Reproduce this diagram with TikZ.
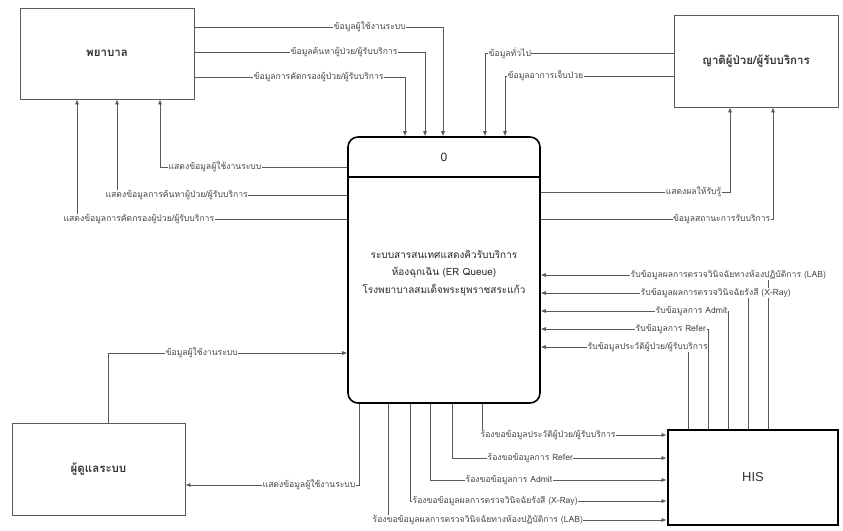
\documentclass[tikz,border=0pt]{standalone}
\usepackage{fontspec}
\setmainfont{Liberation Sans}
\newfontfamily\thai[Script=Thai]{Loma}
\usetikzlibrary{arrows.meta}
\begin{document}
\begin{tikzpicture}[x=1pt,y=-1pt,
  entity/.style={draw=black!65, line width=0.8pt, inner sep=0pt, font=\thai\fontsize{11.5}{12}\selectfont\bfseries, text=black!80},
  flow/.style={draw=black!65, line width=0.6pt, -{Latex[length=5pt,width=4pt]}},
  lbl/.style={fill=white, inner sep=0.5pt, font=\thai\fontsize{8.6}{9}\selectfont, text=black!72},
  ptext/.style={align=center, font=\thai\fontsize{10}{17.5}\selectfont, text=black!85}]
\useasboundingbox (0,0) rectangle (843,530);

% entities
\node[entity, minimum width=174pt, minimum height=91pt] (nurse) at (107,53.5) {พยาบาล};
\node[entity, minimum width=164pt, minimum height=92pt] (rel) at (756,61) {ญาติผู้ป่วย/ผู้รับบริการ};
\node[entity, minimum width=173pt, minimum height=92pt] (admin) at (98.5,469) {ผู้ดูแลระบบ};
\node[entity, draw=black, line width=2.8pt, minimum width=170pt, minimum height=95pt, font=\fontsize{13}{14}\selectfont] (his) at (753,477.5) {HIS};

% process
\node[draw=black, line width=1.6pt, rounded corners=10pt, minimum width=192pt, minimum height=266pt] (proc) at (444,270) {};
\draw[black, line width=1.4pt] (proc.west |- 0,177) coordinate (dl) -- (proc.east |- 0,177) coordinate (dr);
\node[font=\fontsize{12}{13}\selectfont, text=black!85] (pnum) at (444,157) {0};
\node[ptext] (ptxt) at (444,273) {ระบบสารสนเทศแสดงคิวรับบริการ\\ห้องฉุกเฉิน (ER Queue)\\โรงพยาบาลสมเด็จพระยุพราชสระแก้ว};

% nurse -> process
\draw[flow] (nurse.east |- 0,27) -| (443,0 |- proc.north);
\draw[flow] (nurse.east |- 0,52) -| (425,0 |- proc.north);
\draw[flow] (nurse.east |- 0,77) -| (405,0 |- proc.north);
% relatives -> process
\draw[flow] (rel.west |- 0,53) -| (485,0 |- proc.north);
\draw[flow] (rel.west |- 0,76) -| (505,0 |- proc.north);
% process -> nurse
\draw[flow] (proc.west |- 0,167) -| (160,0 |- nurse.south);
\draw[flow] (proc.west |- 0,195) -| (117,0 |- nurse.south);
\draw[flow] (proc.west |- 0,219) -| (77,0 |- nurse.south);
% process -> relatives
\draw[flow] (proc.east |- 0,192) -| (730,0 |- rel.south);
\draw[flow] (proc.east |- 0,219) -| (773,0 |- rel.south);
% HIS -> process
\draw[flow] (his.north -| 768,0) |- (proc.east |- 0,275);
\draw[flow] (his.north -| 748,0) |- (proc.east |- 0,293);
\draw[flow] (his.north -| 728,0) |- (proc.east |- 0,311);
\draw[flow] (his.north -| 708,0) |- (proc.east |- 0,329);
\draw[flow] (his.north -| 688,0) |- (proc.east |- 0,347);
% process -> HIS
\draw[flow] (482,0 |- proc.south) |- (his.west |- 0,435);
\draw[flow] (452,0 |- proc.south) |- (his.west |- 0,458);
\draw[flow] (430,0 |- proc.south) |- (his.west |- 0,480);
\draw[flow] (410,0 |- proc.south) |- (his.west |- 0,501);
\draw[flow] (388,0 |- proc.south) |- (his.west |- 0,520);
% admin
\draw[flow] (admin.north -| 108,0) |- (proc.west |- 0,353);
\draw[flow] (359,0 |- proc.south) |- (admin.east |- 0,485);

% labels
\node[lbl, anchor=west] (a1) at (333,27) {ข้อมูลผู้ใช้งานระบบ};
\node[lbl, anchor=west] (a2) at (290,52) {ข้อมูลค้นหาผู้ป่วย/ผู้รับบริการ};
\node[lbl, anchor=west] (a3) at (253,77) {ข้อมูลการคัดกรองผู้ป่วย/ผู้รับบริการ};
\node[lbl, anchor=west] (b1) at (488,53) {ข้อมูลทั่วไป};
\node[lbl, anchor=west] (b2) at (507,76) {ข้อมูลอาการเจ็บป่วย};
\node[lbl, anchor=west] (c1) at (168,167) {แสดงข้อมูลผู้ใช้งานระบบ};
\node[lbl, anchor=west] (c2) at (105,195) {แสดงข้อมูลการค้นหาผู้ป่วย/ผู้รับบริการ};
\node[lbl, anchor=west] (c3) at (63,219) {แสดงข้อมูลการคัดกรองผู้ป่วย/ผู้รับบริการ};
\node[lbl, anchor=east] (d1) at (722,192) {แสดงผลให้รับรู้};
\node[lbl, anchor=east] (d2) at (771,219) {ข้อมูลสถานะการรับบริการ};
\node[lbl, anchor=west] (e1) at (630,275) {รับข้อมูลผลการตรวจวินิจฉัยทางห้องปฏิบัติการ (LAB)};
\node[lbl, anchor=west] (e2) at (640,293) {รับข้อมูลผลการตรวจวินิจฉัยรังสี (X-Ray)};
\node[lbl, anchor=west] (e3) at (655,311) {รับข้อมูลการ Admit};
\node[lbl, anchor=west] (e4) at (635,329) {รับข้อมูลการ Refer};
\node[lbl, anchor=west] (e5) at (587,347) {รับข้อมูลประวัติผู้ป่วย/ผู้รับบริการ};
\node[lbl, anchor=west] (f1) at (480,435) {ร้องขอข้อมูลประวัติผู้ป่วย/ผู้รับบริการ};
\node[lbl, anchor=west] (f2) at (487,458) {ร้องขอข้อมูลการ Refer};
\node[lbl, anchor=west] (f3) at (465,480) {ร้องขอข้อมูลการ Admit};
\node[lbl, anchor=west] (f4) at (412,501) {ร้องขอข้อมูลผลการตรวจวินิจฉัยรังสี (X-Ray)};
\node[lbl, anchor=west] (f5) at (372,520) {ร้องขอข้อมูลผลการตรวจวินิจฉัยทางห้องปฏิบัติการ (LAB)};
\node[lbl, anchor=west] (g1) at (165,353) {ข้อมูลผู้ใช้งานระบบ};
\node[lbl, anchor=west] (g2) at (262,485) {แสดงข้อมูลผู้ใช้งานระบบ};
\end{tikzpicture}
\end{document}
